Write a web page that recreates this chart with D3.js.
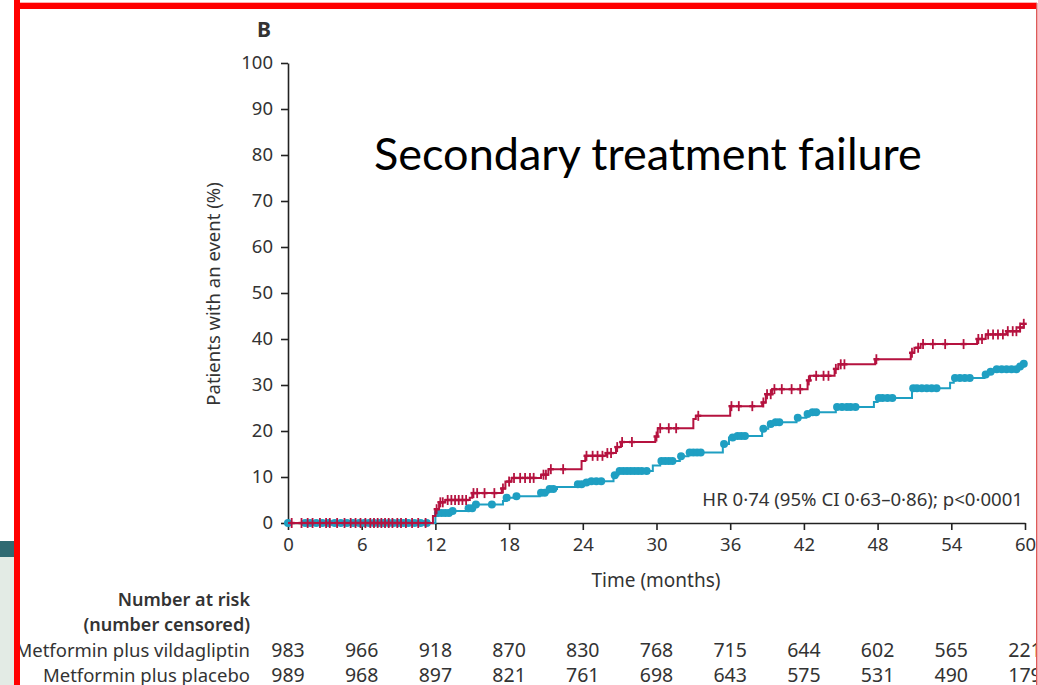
<!DOCTYPE html>
<html>
<head>
<meta charset="utf-8">
<script src="https://cdn.jsdelivr.net/npm/d3@7"></script>
<style>
  html, body { margin: 0; padding: 0; background: #fff; }
  svg { display: block; }
  text { fill: #333; font-family: "Noto Sans", sans-serif; }
</style>
</head>
<body>
<div id="chart"></div>
<script>
// x / y ticks
var xTicks = [0, 6, 12, 18, 24, 30, 36, 42, 48, 54, 60];
var yTicks = [0, 10, 20, 30, 40, 50, 60, 70, 80, 90, 100];

// metformin plus placebo (red), step times (months) and cumulative %
var placeboTimes = [0, 11.6, 11.8, 12.0, 12.3, 12.8, 14.8, 15.0, 17.4, 17.7, 18.2, 20.6, 21.2, 23.9, 24.2, 25.9, 26.7, 27.1, 29.9, 30.1, 33.0, 33.2, 36.0, 38.6, 38.9, 39.4, 42.3, 42.5, 44.5, 44.8, 47.8, 50.7, 51.0, 51.5, 56.1, 56.8, 58.5, 59.6, 59.9];
var placeboPct   = [0, 0,    1.5,  3.0,  4.5,  5.0,  5.5,  6.5,  7.5,  9.0,  9.8,  10.5, 11.7, 13.5, 14.6, 15.2, 16.5, 17.6, 18.8, 20.6, 22.6, 23.3, 25.4, 26.2, 28.0, 29.1, 31.0, 32.0, 33.5, 34.5, 35.6, 37.0, 38.1, 38.9, 40.0, 41.0, 41.7, 42.5, 43.3];

// metformin plus vildagliptin (teal)
var vildaTimes = [0, 11.8, 12.0, 12.2, 13.2, 14.6, 15.2, 17.5, 17.8, 18.5, 20.5, 21.2, 21.9, 23.5, 24.2, 24.6, 26.5, 26.9, 29.7, 30.3, 31.9, 32.6, 35.4, 35.9, 36.5, 38.6, 39.1, 39.6, 41.4, 42.2, 42.6, 44.6, 47.7, 48.0, 50.8, 53.9, 54.2, 56.7, 57.0, 57.6, 59.5, 59.9];
var vildaPct   = [0, 0,    1.5,  2.2,  2.6,  3.2,  4.0,  4.8,  5.5,  5.8,  6.6,  7.4,  7.8,  8.4,  8.8,  9.1,  10.4, 11.3, 12.5, 13.5, 14.5, 15.3, 17.2, 18.6, 18.9, 20.5, 21.5, 21.9, 22.9, 23.7, 24.1, 25.2, 26.3, 27.2, 29.3, 30.5, 31.5, 32.3, 32.9, 33.4, 34.0, 34.6];

// censoring marks (months)
var placeboCensor = [0.3, 1.1, 1.6, 2.0, 2.6, 3.1, 3.4, 4.0, 4.6, 5.1, 5.5, 5.9, 6.3, 6.7, 7.0, 7.3, 7.6, 7.9, 8.2, 8.5, 8.9, 9.2, 9.6, 10.1, 10.6, 11.2, 12.1, 12.4, 12.6, 13.0, 13.3, 13.6, 13.9, 14.2, 14.5, 15.1, 15.4, 16.0, 16.8, 17.5, 18.0, 18.4, 18.9, 19.3, 19.7, 20.0, 20.8, 21.0, 21.4, 22.4, 24.3, 24.8, 25.2, 25.6, 26.0, 26.3, 26.8, 27.2, 28.0, 30.0, 30.3, 31.0, 31.6, 33.4, 36.1, 36.7, 37.8, 38.7, 39.0, 39.3, 39.6, 40.2, 41.0, 41.7, 42.4, 43.0, 43.6, 44.0, 44.6, 45.0, 45.3, 47.9, 50.8, 51.3, 51.7, 52.5, 53.5, 55.0, 56.2, 56.5, 57.0, 57.4, 57.8, 58.2, 58.6, 59.0, 59.3, 59.6, 59.9];
var vildaCensor = [0.0, 1.4, 1.8, 2.3, 2.8, 3.3, 3.8, 4.3, 4.8, 5.3, 5.8, 6.2, 6.6, 7.0, 7.4, 7.8, 8.2, 8.6, 9.0, 9.4, 9.8, 10.3, 10.8, 11.3, 12.2, 12.5, 12.8, 13.1, 13.4, 14.7, 15.0, 15.3, 16.6, 17.8, 18.6, 20.6, 20.9, 21.3, 21.6, 23.6, 23.9, 24.3, 24.7, 25.1, 25.5, 26.6, 27.0, 27.3, 27.6, 27.9, 28.2, 28.5, 28.8, 29.2, 30.4, 30.7, 31.0, 31.3, 32.0, 32.7, 33.0, 33.3, 33.6, 35.5, 36.2, 36.6, 36.9, 37.2, 38.7, 39.3, 39.7, 40.0, 41.5, 42.3, 42.7, 43.0, 44.7, 45.1, 45.5, 45.8, 46.2, 48.1, 48.4, 48.8, 49.2, 50.9, 51.2, 51.6, 52.0, 52.4, 52.8, 54.3, 54.7, 55.1, 55.5, 56.8, 57.2, 57.7, 58.1, 58.5, 58.9, 59.3, 59.6, 59.9];

// number at risk
var riskTimes = [0, 6, 12, 18, 24, 30, 36, 42, 48, 54, 60];
var riskVilda = [983, 966, 918, 870, 830, 768, 715, 644, 602, 565, 221];
var riskPlacebo = [989, 968, 897, 821, 761, 698, 643, 575, 531, 490, 179];
var groupNames = ["Metformin plus vildagliptin", "Metformin plus placebo"];

var red = "#b5123f", teal = "#1f9fc2";
var W = 1038, H = 685;

var svg = d3.select("#chart").append("svg")
  .attr("width", W).attr("height", H);

var x = d3.scaleLinear().domain([0, 60]).range([288, 1025]);
var y = d3.scaleLinear().domain([0, 100]).range([523, 63]);

// axes
var yAxis = d3.axisLeft(y).tickValues(yTicks).tickSize(7).tickSizeOuter(0).tickPadding(8);
var xAxis = d3.axisBottom(x).tickValues(xTicks).tickSize(7).tickSizeOuter(0).tickPadding(8);

var gy = svg.append("g").attr("transform", "translate(" + x(0) + ",0)").call(yAxis);
var gx = svg.append("g").attr("transform", "translate(0," + y(0) + ")").call(xAxis);
[gy, gx].forEach(function(g) {
  g.selectAll(".domain").attr("stroke", "#222").attr("stroke-width", 1.6);
  g.selectAll(".tick line").attr("stroke", "#222").attr("stroke-width", 1.6);
  g.selectAll(".tick text").attr("font-size", 18.5).attr("fill", "#333")
    .attr("font-family", "Noto Sans, sans-serif");
});

// curves
function pts(ts, vs) { return ts.map(function(t, i) { return [t, vs[i]]; }); }
var line = d3.line().x(function(d) { return x(d[0]); }).y(function(d) { return y(d[1]); })
  .curve(d3.curveStepAfter);

function valueAt(ts, vs, t) {
  var i = d3.bisectRight(ts, t) - 1;
  return vs[Math.max(0, i)];
}

// teal
svg.append("path").datum(pts(vildaTimes, vildaPct))
  .attr("d", line).attr("fill", "none").attr("stroke", teal).attr("stroke-width", 2);
svg.append("g").selectAll("circle").data(vildaCensor).enter().append("circle")
  .attr("cx", function(t) { return x(t); })
  .attr("cy", function(t) { return y(valueAt(vildaTimes, vildaPct, t)); })
  .attr("r", 4).attr("fill", teal);

// red
svg.append("path").datum(pts(placeboTimes, placeboPct))
  .attr("d", line).attr("fill", "none").attr("stroke", red).attr("stroke-width", 2);
var plus = svg.append("g").selectAll("g").data(placeboCensor).enter().append("g")
  .attr("transform", function(t) {
    return "translate(" + x(t) + "," + y(valueAt(placeboTimes, placeboPct, t)) + ")";
  });
plus.append("line").attr("x1", 0).attr("x2", 0).attr("y1", -5).attr("y2", 5)
  .attr("stroke", red).attr("stroke-width", 1.8);
plus.append("line").attr("x1", -3).attr("x2", 3).attr("y1", 0).attr("y2", 0)
  .attr("stroke", red).attr("stroke-width", 2.4);

// labels
svg.append("text").attr("x", 264).attr("y", 37).attr("text-anchor", "middle")
  .attr("font-size", 21).attr("font-weight", "bold").text("B");

svg.append("text")
  .attr("transform", "translate(220,294) rotate(-90)")
  .attr("text-anchor", "middle").attr("font-size", 18.5)
  .text("Patients with an event (%)");

svg.append("text").attr("x", 656).attr("y", 587).attr("text-anchor", "middle")
  .attr("font-size", 19).text("Time (months)");

svg.append("text").attr("x", 1023).attr("y", 506).attr("text-anchor", "end")
  .attr("font-size", 18.6).text("HR 0·74 (95% CI 0·63–0·86); p<0·0001");

svg.append("text").attr("x", 374).attr("y", 170)
  .attr("font-family", "Lato, sans-serif").style("font-family", "Lato, sans-serif")
  .attr("font-size", 45).attr("fill", "#000").style("fill", "#000")
  .text("Secondary treatment failure");

// risk table
svg.append("text").attr("x", 250).attr("y", 606).attr("text-anchor", "end")
  .attr("font-size", 18).attr("font-weight", 600).text("Number at risk");
svg.append("text").attr("x", 250).attr("y", 631).attr("text-anchor", "end")
  .attr("font-size", 18).attr("font-weight", 600).text("(number censored)");

[riskVilda, riskPlacebo].forEach(function(row, r) {
  var yy = 657 + r * 25;
  svg.append("text").attr("x", 250).attr("y", yy).attr("text-anchor", "end")
    .attr("font-size", 18.5).text(groupNames[r]);
  svg.append("g").selectAll("text").data(row).enter().append("text")
    .attr("x", function(d, i) { return x(riskTimes[i]); })
    .attr("y", yy).attr("text-anchor", "middle").attr("font-size", 19.5)
    .text(function(d) { return d; });
});

// frame: left strip, red border
svg.append("rect").attr("x", 1037).attr("y", 0).attr("width", 2).attr("height", H).attr("fill", "#fff");
svg.append("rect").attr("x", 0).attr("y", 0).attr("width", 14).attr("height", H).attr("fill", "#fff");
svg.append("rect").attr("x", 0).attr("y", 541).attr("width", 14).attr("height", 16).attr("fill", "#2f6a72");
svg.append("rect").attr("x", 0).attr("y", 557).attr("width", 14).attr("height", H - 557).attr("fill", "#e3ebe5");
svg.append("rect").attr("x", 14).attr("y", 2).attr("width", 1023).attr("height", 1).attr("fill", "#ffb0b0");
svg.append("rect").attr("x", 14).attr("y", 3).attr("width", 1023).attr("height", 6).attr("fill", "#ff0000");
svg.append("rect").attr("x", 14).attr("y", 0).attr("width", 6).attr("height", H).attr("fill", "#ff0000");
svg.append("rect").attr("x", 1036).attr("y", 3).attr("width", 1.5).attr("height", H).attr("fill", "#e05a5a");
</script>
</body>
</html>
